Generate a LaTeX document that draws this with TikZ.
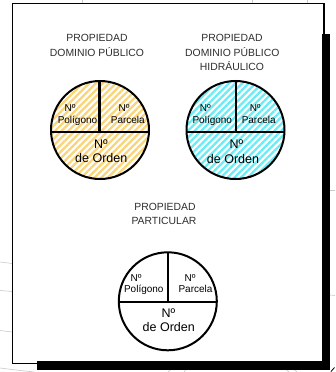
\documentclass[tikz,border=0pt]{standalone}
\usepackage{fontspec}
\setmainfont{Liberation Sans}
\usetikzlibrary{patterns.meta}
\definecolor{stripeY}{RGB}{250,212,120}
\definecolor{stripeC}{RGB}{105,236,245}
\definecolor{titlegray}{RGB}{45,45,45}
\definecolor{faint}{RGB}{200,200,200}
\begin{document}
\begin{tikzpicture}[x=1pt,y=-1pt,
  disc/.style={circle,draw=black,line width=2pt,minimum size=98pt,inner sep=0pt,outer sep=0pt},
  yellowdisc/.style={disc,pattern={Lines[angle=45,distance=4.7pt,line width=2.3pt]},pattern color=stripeY},
  cyandisc/.style={disc,pattern={Lines[angle=45,distance=4.7pt,line width=2.3pt]},pattern color=stripeC},
  divider/.style={line width=2.4pt},
  ttl/.style={font=\fontsize{10.4}{12}\selectfont,text=titlegray,anchor=base,inner sep=0pt},
  small/.style={font=\fontsize{10}{12}\selectfont,anchor=base,inner sep=0pt},
  big/.style={font=\fontsize{12.5}{14}\selectfont,anchor=base,inner sep=0pt},
  faintline/.style={draw=faint,line width=0.6pt},
]
\useasboundingbox (0,0) rectangle (335,372);

% faint background fragments
\draw[faintline] (82,0) -- (82,3);
\draw[faintline] (252,0) -- (252,3);
\draw[faintline] (307,0) -- (307,3);
\draw[faintline] (0,262) -- (12,263.5);
\draw[faintline] (0,290.5) -- (12,291.5);
\draw[faintline] (0,330.5) -- (12,332);
\draw[faintline] (0,368) .. controls (12,369.5) .. (34,372);
\draw[faintline] (330,190) -- (335,190);
\draw[faintline] (330,295) -- (335,295.5);
\draw[faintline] (168,372) -- (171,369.5);
\draw[faintline] (184,372) -- (186,369.5);
\draw[faintline] (286,369.5) -- (289,372);
\draw[faintline] (294,369.5) -- (297,372);

% frame and shadow
\draw[line width=1.2pt] (12.3,3.3) rectangle (324,363.3);
\fill[black] (321.5,34) rectangle (330,370);
\fill[black] (37,361) rectangle (330,369.5);
\draw[line width=0.8pt] (331,371.5) -- (334.5,367.5);

% titles
\node[ttl] (t1a) at (97,41.5) {PROPIEDAD};
\node[ttl] (t1b) at (97,56) {DOMINIO PÚBLICO};
\node[ttl] (t2a) at (232,41.5) {PROPIEDAD};
\node[ttl] (t2b) at (232.3,56) {DOMINIO PÚBLICO};
\node[ttl] (t2c) at (232,70) {HIDRÁULICO};
\node[ttl] (t3a) at (165,210.5) {PROPIEDAD};
\node[ttl] (t3b) at (164,224.5) {PARTICULAR};

% circles
\node[yellowdisc] (c1) at (100,130) {};
\node[cyandisc] (c2) at (235.5,130) {};
\node[disc] (c3) at (167.8,301.3) {};

% dividers
\draw[divider] ([yshift=-1.7pt]c1.west) -- ([yshift=-1.7pt]c1.east);
\draw[divider] ([xshift=-0.7pt]c1.north) -- ([xshift=-0.7pt,yshift=-1.7pt]c1.center);
\draw[divider] ([yshift=-1.7pt]c2.west) -- ([yshift=-1.7pt]c2.east);
\draw[divider] ([xshift=0.2pt]c2.north) -- ([xshift=0.2pt,yshift=-1.7pt]c2.center);
\draw[divider] ([yshift=-0.4pt]c3.west) -- ([yshift=-0.4pt]c3.east);
\draw[divider] ([xshift=-0.1pt]c3.north) -- ([xshift=-0.1pt,yshift=-0.4pt]c3.center);

% texts circle 1
\node[small] (n1a) at (70,111.5) {Nº};
\node[small] (pol1) at (77.5,123.8) {Polígono};
\node[small] (n1b) at (124,111.3) {Nº};
\node[small] (par1) at (127.8,123.7) {Parcela};
\node[big] (n1c) at (100.8,148.5) {Nº};
\node[big] (ord1) at (101.3,162.8) {de Orden};

% texts circle 2
\node[small] (n2a) at (205.3,111.5) {Nº};
\node[small] (pol2) at (212.3,123.8) {Polígono};
\node[small] (n2b) at (255.2,111.3) {Nº};
\node[small] (par2) at (258.7,123.7) {Parcela};
\node[big] (n2c) at (236.3,148.5) {Nº};
\node[big] (ord2) at (233,163.5) {de Orden};

% texts circle 3
\node[small] (n3a) at (136,281) {Nº};
\node[small] (pol3) at (143.8,292.8) {Polígono};
\node[small] (n3b) at (190,281) {Nº};
\node[small] (par3) at (195.5,292.8) {Parcela};
\node[big] (n3c) at (168.3,317.2) {Nº};
\node[big] (ord3) at (168.8,331.8) {de Orden};
\end{tikzpicture}
\end{document}
